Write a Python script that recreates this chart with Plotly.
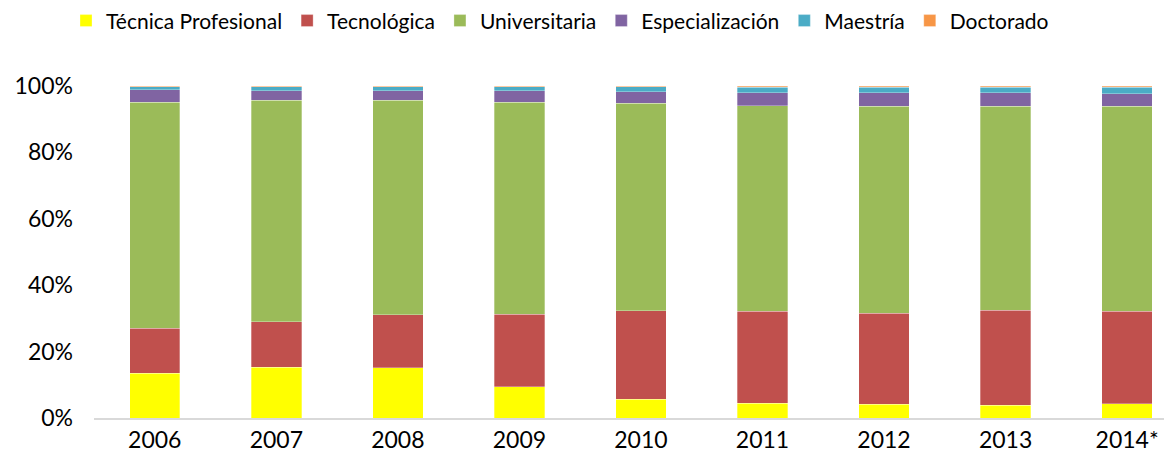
import plotly.graph_objects as go

years = ["2006", "2007", "2008", "2009", "2010", "2011", "2012", "2013", "2014*"]

tecnica_profesional = [13.5, 15.3, 15.1, 9.4, 5.7, 4.5, 4.2, 3.9, 4.3]
tecnologica = [13.6, 13.7, 16.0, 21.8, 26.6, 27.7, 27.3, 28.6, 27.9]
universitaria = [68.0, 66.7, 64.6, 63.9, 62.5, 61.8, 62.4, 61.4, 61.7]
especializacion = [3.8, 2.9, 2.9, 3.4, 3.5, 4.0, 4.1, 4.0, 3.7]
maestria = [0.9, 1.2, 1.2, 1.3, 1.5, 1.7, 1.7, 1.8, 2.1]
doctorado = [0.2, 0.2, 0.2, 0.2, 0.2, 0.3, 0.3, 0.3, 0.3]

series = [
    ("Técnica Profesional", tecnica_profesional, "#FFFF00"),
    ("Tecnológica", tecnologica, "#C0504D"),
    ("Universitaria", universitaria, "#9BBB59"),
    ("Especialización", especializacion, "#8064A2"),
    ("Maestría", maestria, "#4BACC6"),
    ("Doctorado", doctorado, "#F79646"),
]

FONT = "Lato, 'Open Sans', sans-serif"

fig = go.Figure()
for name, vals, color in series:
    fig.add_trace(go.Bar(
        name=name, x=years, y=vals,
        marker=dict(color=color, line=dict(width=0.6, color="rgba(255,255,255,0.5)")),
    ))

fig.update_layout(
    barmode="stack",
    barnorm="percent",
    bargap=0.585,
    width=1172, height=462,
    margin=dict(l=86, r=0, t=78, b=52, autoexpand=False),
    plot_bgcolor="white", paper_bgcolor="white",
    font=dict(family=FONT, size=22, color="#000000"),
    legend=dict(
        orientation="h", x=0.471, xanchor="center", y=1.196, yanchor="middle",
        xref="container", yref="paper", font=dict(size=21), traceorder="normal",
        itemwidth=30,
    ),
    xaxis=dict(
        range=[-0.5, 8.435], showgrid=False, showline=True, linecolor="#D9D9D9",
        linewidth=2, ticks="", tickfont=dict(size=23), automargin=False,
    ),
    yaxis=dict(
        range=[0, 100], showgrid=False, showline=False, ticks="",
        tickvals=[0, 20, 40, 60, 80, 100], ticktext=["0%", "20%", "40%", "60%", "80%", "100%"],
        tickfont=dict(size=23), ticklabelstandoff=20, automargin=False,
    ),
)

fig.write_html("out.html")
